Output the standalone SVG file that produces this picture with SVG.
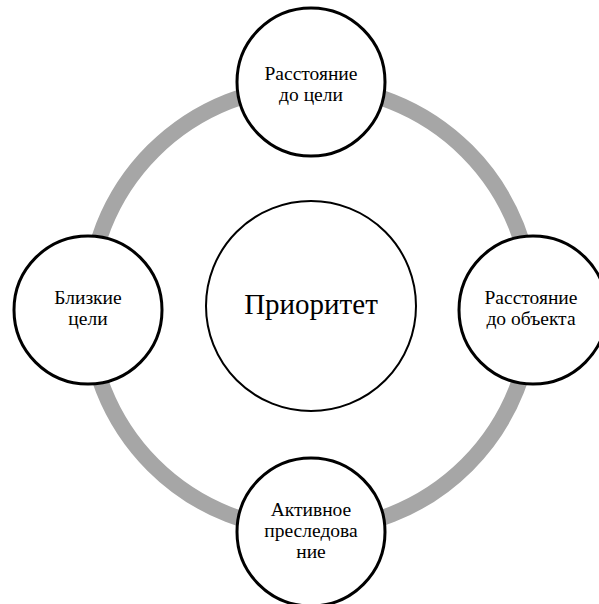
<svg xmlns="http://www.w3.org/2000/svg" width="599" height="604" viewBox="0 0 599 604">
<style>
.node{fill:#fff;stroke:#000;stroke-width:3}
.center{fill:#fff;stroke:#000;stroke-width:2}
.t{font-family:"Liberation Serif","DejaVu Serif",serif;font-size:19.5px;fill:#000;text-anchor:middle}
.tc{font-family:"Liberation Serif","DejaVu Serif",serif;font-size:29px;fill:#000;text-anchor:middle}
</style>
<rect width="599" height="604" fill="#fff"/>
<g id="connectors">
<circle cx="310" cy="308" r="222" fill="none" stroke="#a6a6a6" stroke-width="16"/>
</g>
<g id="center">
<circle class="center" cx="311" cy="306" r="105"/>
<text class="tc" x="311" y="314">Приоритет</text>
</g>
<g id="top">
<circle class="node" cx="311" cy="82" r="74"/>
<text class="t" x="311" y="80">Расстояние</text>
<text class="t" x="311" y="101">до цели</text>
</g>
<g id="left">
<circle class="node" cx="88" cy="310" r="74"/>
<text class="t" x="88" y="304">Близкие</text>
<text class="t" x="88" y="325">цели</text>
</g>
<g id="right">
<circle class="node" cx="533" cy="310" r="74"/>
<text class="t" x="531" y="304">Расстояние</text>
<text class="t" x="531" y="325">до объекта</text>
</g>
<g id="bottom">
<circle class="node" cx="311" cy="532" r="74"/>
<text class="t" x="311" y="516">Активное</text>
<text class="t" x="311" y="537">преследова</text>
<text class="t" x="311" y="558">ние</text>
</g>
</svg>
